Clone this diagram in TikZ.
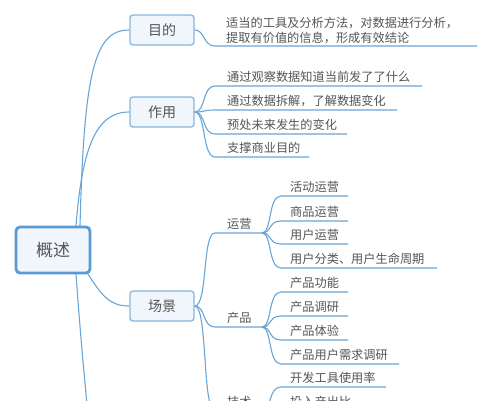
\documentclass[tikz,border=0pt]{standalone}
\usepackage{fontspec}
\setmainfont{Noto Sans CJK SC}
\begin{document}
\begin{tikzpicture}[x=1pt,y=-1pt,
  conn/.style={draw=lineblue,line width=1.1pt},
  rootbox/.style={draw=rootblue,line width=2.8pt,fill=boxfill,rounded corners=4pt,minimum width=74pt,minimum height=46pt,text=txt,font=\fontsize{17}{20}\selectfont},
  subbox/.style={draw=subblue,line width=1.3pt,fill=boxfill,rounded corners=3pt,minimum width=64pt,minimum height=30pt,text=txt,font=\fontsize{14}{17}\selectfont},
  leaf/.style={anchor=base west,inner sep=0pt,text=txt,font=\fontsize{12.2}{15}\selectfont},
]
\definecolor{lineblue}{HTML}{6AA5D8}
\definecolor{rootblue}{HTML}{5B9BD5}
\definecolor{subblue}{HTML}{86B6E0}
\definecolor{boxfill}{HTML}{F1F6FC}
\definecolor{txt}{HTML}{555555}
\useasboundingbox (0,0) rectangle (489,400);
\clip (0,0) rectangle (489,400);
\fill[white] (0,0) rectangle (489,400);

% ---- connectors from root (drawn first) ----
\coordinate (rt1) at (80,226);
\coordinate (rt2) at (76,226);
\coordinate (rb1) at (88,274);
\coordinate (rb2) at (76,274);
\coordinate (hidden) at (92,450);
\coordinate (mudiW) at (129,30);
\coordinate (zuoyongW) at (129,112);
\coordinate (changjingW) at (129,306);
\draw[conn] (rt1) .. controls (84,70) and (95,30) .. (mudiW);
\draw[conn] (rt2) .. controls (82,150) and (95,112) .. (zuoyongW);
\draw[conn] (rb1) .. controls (102,296) and (110,306) .. (changjingW);
\draw[conn] (rb2) .. controls (80,330) and (86,400) .. (hidden);

% ---- boxes ----
\node[rootbox] (root) at (53,250) {概述};
\node[subbox] (mudi) at (162,30) {目的};
\node[subbox] (zuoyong) at (162,112) {作用};
\node[subbox] (changjing) at (162,306) {场景};

% ---- 目的 leaf ----
\node[leaf,anchor=south west,align=left] (m1) at (226,44) {适当的工具及分析方法，对数据进行分析，\\提取有价值的信息，形成有效结论};
\coordinate (m1s) at (215,46); \coordinate (m1e) at (477,46);
\draw[conn] (mudi.east) .. controls (205,30) and (203,46) .. (m1s) -- (m1e);

% ---- 作用 leaves ----
\node[leaf] (z1) at (227,81.5) {通过观察数据知道当前发了了什么};
\node[leaf] (z2) at (227,105.5) {通过数据拆解，了解数据变化};
\node[leaf] (z3) at (227,129.5) {预处未来发生的变化};
\node[leaf] (z4) at (227,152.5) {支撑商业目的};
\coordinate (z1s) at (215,86); \coordinate (z1e) at (422,86);
\coordinate (z2s) at (215,110); \coordinate (z2e) at (397,110);
\coordinate (z3s) at (215,134); \coordinate (z3e) at (347,134);
\coordinate (z4s) at (215,157); \coordinate (z4e) at (309,157);
\draw[conn] (zuoyong.east) .. controls (206,112) and (202,86) .. (z1s) -- (z1e);
\draw[conn] (zuoyong.east) .. controls (206,112) and (202,110) .. (z2s) -- (z2e);
\draw[conn] (zuoyong.east) .. controls (206,112) and (202,134) .. (z3s) -- (z3e);
\draw[conn] (zuoyong.east) .. controls (206,112) and (202,157) .. (z4s) -- (z4e);

% ---- 场景 sublabels ----
\node[leaf] (yy) at (227,228.5) {运营};
\node[leaf] (cp) at (227,322.5) {产品};
\node[leaf] (js) at (227,406.5) {技术};
\coordinate (yys) at (215,233); \coordinate (yye) at (262,233);
\coordinate (cps) at (215,327); \coordinate (cpe) at (262,327);
\coordinate (jss) at (215,411); \coordinate (jse) at (262,411);
\draw[conn] (changjing.east) .. controls (208,306) and (202,233) .. (yys) -- (yye);
\draw[conn] (changjing.east) .. controls (206,306) and (202,327) .. (cps) -- (cpe);
\draw[conn] (changjing.east) .. controls (208,306) and (202,411) .. (jss) -- (jse);

% ---- 运营 leaves ----
\node[leaf] (y1) at (290,191.5) {活动运营};
\node[leaf] (y2) at (290,216.5) {商品运营};
\node[leaf] (y3) at (290,239.5) {用户运营};
\node[leaf] (y4) at (290,263.5) {用户分类、用户生命周期};
\coordinate (y1s) at (281,196); \coordinate (y1e) at (348,196);
\coordinate (y2s) at (281,221); \coordinate (y2e) at (348,221);
\coordinate (y3s) at (281,244); \coordinate (y3e) at (348,244);
\coordinate (y4s) at (281,268); \coordinate (y4e) at (437,268);
\foreach \s/\e/\yy in {y1s/y1e/196,y2s/y2e/221,y3s/y3e/244,y4s/y4e/268}
  \draw[conn] (yye) .. controls (272,233) and (268,\yy) .. (\s) -- (\e);

% ---- 产品 leaves ----
\node[leaf] (c1) at (290,287.5) {产品功能};
\node[leaf] (c2) at (290,311.5) {产品调研};
\node[leaf] (c3) at (290,335.5) {产品体验};
\node[leaf] (c4) at (290,359.5) {产品用户需求调研};
\coordinate (c1s) at (281,292); \coordinate (c1e) at (348,292);
\coordinate (c2s) at (281,316); \coordinate (c2e) at (348,316);
\coordinate (c3s) at (281,340); \coordinate (c3e) at (348,340);
\coordinate (c4s) at (281,364); \coordinate (c4e) at (399,364);
\foreach \s/\e/\yy in {c1s/c1e/292,c2s/c2e/316,c3s/c3e/340,c4s/c4e/364}
  \draw[conn] (cpe) .. controls (272,327) and (268,\yy) .. (\s) -- (\e);

% ---- 技术 leaves ----
\node[leaf] (j1) at (290,382.5) {开发工具使用率};
\node[leaf] (j2) at (290,406.5) {投入产出比};
\coordinate (j1s) at (281,387); \coordinate (j1e) at (386,387);
\coordinate (j2s) at (281,411); \coordinate (j2e) at (362,411);
\foreach \s/\e/\yy in {j1s/j1e/387,j2s/j2e/411}
  \draw[conn] (jse) .. controls (272,411) and (268,\yy) .. (\s) -- (\e);
\end{tikzpicture}
\end{document}
